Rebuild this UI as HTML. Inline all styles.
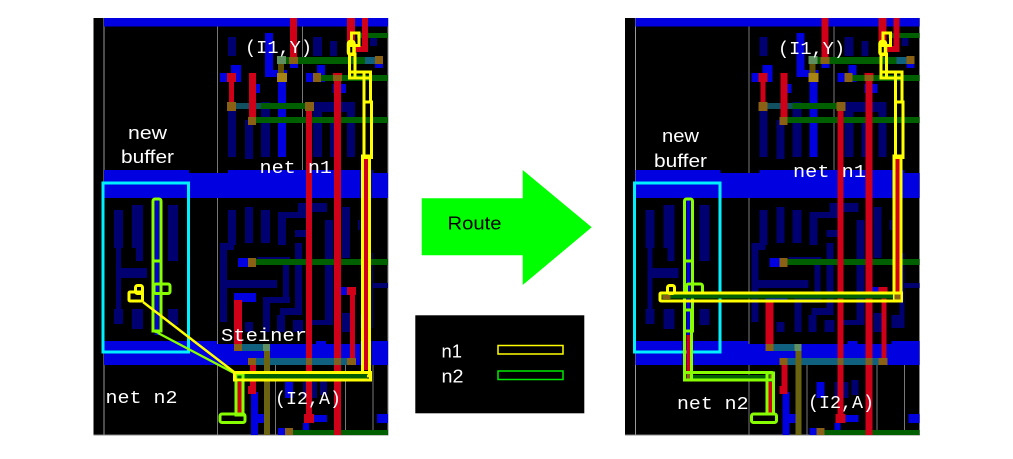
<!DOCTYPE html>
<html>
<head>
<meta charset="utf-8">
<style>
html,body{margin:0;padding:0;background:#fff;}
svg{display:block;}
.m{font-family:"Liberation Mono",monospace;font-size:18px;fill:#fff;}
.s{font-family:"Liberation Sans",sans-serif;font-size:18px;fill:#fff;}
</style>
</head>
<body>
<svg width="1013" height="459" viewBox="0 0 1013 459" xmlns="http://www.w3.org/2000/svg">
<defs>
<g id="base" shape-rendering="crispEdges">
  <rect x="93.5" y="18" width="294.5" height="417" fill="#000"/>
  <!-- grey lines -->
  <g fill="#777">
    <rect x="103.5" y="18" width="1" height="417" fill="#999"/>
    <rect x="217" y="18" width="1" height="417"/>
    <rect x="302" y="18" width="1" height="160"/>
    <rect x="275" y="365" width="1" height="70"/>
    <rect x="345" y="365" width="1" height="70"/>
    <rect x="372.5" y="365" width="1" height="70"/>
    <rect x="387.5" y="18" width="1" height="417" fill="#888"/>
    <rect x="93.5" y="434.5" width="295" height="1" fill="#888"/>
  </g>
  <!-- navy -->
  <g fill="#000070">
    <rect x="228" y="37" width="8" height="19"/><rect x="313" y="37" width="9" height="19"/>
    <rect x="330" y="41" width="7" height="15"/><rect x="370" y="38" width="7" height="8"/>
    <rect x="228" y="110" width="8" height="47"/><rect x="245" y="120" width="8" height="39"/>
    <rect x="261" y="102" width="9" height="55"/><rect x="313" y="102" width="9" height="55"/>
    <rect x="330" y="120" width="7" height="37"/><rect x="347" y="102" width="8" height="55"/>
    <rect x="313" y="102" width="42" height="10"/>
    <!-- buffer cell -->
    <rect x="114" y="210" width="9" height="38"/><rect x="132" y="205" width="11" height="43"/>
    <rect x="136" y="248" width="7" height="13"/><rect x="168" y="205" width="10" height="56"/>
    <rect x="116" y="248" width="5" height="67"/><rect x="121" y="268" width="26" height="10"/>
    <rect x="114" y="309" width="9" height="15"/><rect x="132" y="309" width="11" height="20"/>
    <rect x="168" y="309" width="10" height="16"/>
    <!-- lower cell -->
    <rect x="228" y="210" width="8" height="35"/><rect x="245" y="207" width="8" height="36"/>
    <rect x="261" y="210" width="9" height="33"/><rect x="278" y="212" width="8" height="33"/>
    <rect x="278" y="212" width="29" height="6"/><rect x="298" y="203" width="29" height="9"/>
    <rect x="325" y="220" width="8" height="105"/><rect x="342" y="207" width="8" height="51"/>
    <rect x="358" y="220" width="5" height="10"/>
    <rect x="220" y="243" width="7" height="79"/><rect x="220" y="243" width="14" height="7"/>
    <rect x="227" y="280" width="50" height="8"/>
    <rect x="263" y="297" width="7" height="35"/><rect x="263" y="297" width="27" height="6"/>
    <rect x="283" y="257" width="6" height="40"/><rect x="257" y="257" width="33" height="8"/>
    <rect x="295" y="243" width="7" height="69"/><rect x="280" y="308" width="22" height="7"/>
    <rect x="277" y="315" width="8" height="17"/><rect x="295" y="230" width="12" height="7"/>
    <rect x="245" y="322" width="8" height="10"/><rect x="293" y="320" width="10" height="12"/>
    <rect x="312" y="320" width="18" height="5"/><rect x="342" y="313" width="8" height="19"/>
    <rect x="360" y="315" width="13" height="13"/><rect x="368" y="253" width="5" height="65"/>
    <rect x="373" y="283" width="15" height="5"/>
    <rect x="303" y="382" width="14" height="16"/><rect x="320" y="380" width="7" height="15"/>
  </g>
  <!-- rails -->
  <g fill="#0000e0">
    <rect x="104" y="18" width="284" height="8.5"/>
    <rect x="104" y="170" width="85" height="28"/>
    <rect x="189" y="173" width="39" height="25"/>
    <rect x="228" y="170" width="145" height="28"/>
    <rect x="373" y="173" width="15" height="25"/>
    <rect x="104" y="341" width="113" height="24"/>
    <rect x="217" y="344" width="171" height="21"/>
    <rect x="360" y="341" width="28" height="24"/>
    <rect x="316" y="341" width="10" height="4"/>
  </g>
  <!-- bright blue -->
  <g fill="#0000e0">
    <rect x="278" y="73" width="8" height="84"/><rect x="265" y="33" width="8" height="44"/>
    <rect x="265" y="70" width="22" height="7"/><rect x="231" y="65" width="10" height="17"/>
    <rect x="220" y="73" width="17" height="9"/><rect x="250" y="84" width="10" height="9"/>
    <rect x="306" y="73" width="19" height="9"/><rect x="317" y="65" width="8" height="17"/>
    <rect x="333" y="84" width="13" height="9"/><rect x="290" y="60" width="8" height="8"/>
    <rect x="375" y="57" width="8" height="11"/><rect x="365" y="57" width="18" height="6"/>
    <rect x="238" y="258" width="12" height="9"/><rect x="234" y="293" width="22" height="9"/>
    <rect x="340" y="287" width="8" height="8"/><rect x="251" y="392" width="7" height="43"/>
    <rect x="257" y="414" width="13" height="9"/><rect x="285" y="382" width="8" height="16"/>
    <rect x="303" y="423" width="6" height="12"/><rect x="313" y="415" width="14" height="7"/>
    <rect x="377" y="414" width="11" height="9"/><rect x="278" y="428" width="7" height="7"/>
  </g>
  <!-- dark green -->
  <g fill="#006000">
    <rect x="277" y="57" width="106" height="7"/><rect x="317" y="75" width="71" height="6"/>
    <rect x="231" y="103" width="78" height="6"/><rect x="252" y="117" width="136" height="6"/>
    <rect x="357" y="33" width="31" height="5"/><rect x="252" y="259" width="136" height="6"/>
    <rect x="288" y="430" width="100" height="5"/>
  </g>
  <!-- teal overlaps under red -->
  <g fill="#106080">
    <rect x="242" y="344" width="22" height="7"/><rect x="256" y="358" width="91" height="7"/>
    <rect x="365" y="57" width="10" height="7"/>
    <rect x="231" y="103" width="30" height="6" fill="#105060"/>
  </g>
  <!-- red -->
  <g fill="#d00018">
    <rect x="290" y="18" width="7" height="39"/><rect x="347" y="18" width="8" height="25"/>
    <rect x="362" y="18" width="6" height="34"/><rect x="355" y="46" width="13" height="6"/>
    <rect x="229" y="73" width="5" height="32"/><rect x="227" y="73" width="9" height="9"/>
    <rect x="249" y="73" width="7" height="50"/>
    <rect x="306" y="105" width="6" height="310"/><rect x="304" y="414" width="10" height="9"/>
    <rect x="334" y="73" width="7" height="362"/><rect x="333" y="73" width="9" height="6"/>
    <rect x="350" y="287" width="5" height="71"/><rect x="347" y="287" width="9" height="8"/>
    <rect x="234" y="300" width="8" height="45"/>
    <rect x="250" y="358" width="6" height="30"/><rect x="248" y="386" width="8" height="8"/>
    <rect x="237" y="382" width="5" height="33"/>
  </g>
  <g>
    <rect x="306" y="358" width="6" height="7" fill="#806020"/>
    <rect x="334" y="358" width="7" height="7" fill="#806020"/>
  </g>
  <!-- olive via stack -->
  <rect x="264" y="344" width="6" height="91" fill="#6a6410"/>
  <rect x="263" y="344" width="7" height="7" fill="#609060"/>
  <rect x="278" y="64" width="6" height="9" fill="#605000"/>
  <!-- brown pads -->
  <g fill="#8a6014">
    <rect x="227" y="102" width="9" height="9"/><rect x="305" y="102" width="9" height="9"/>
    <rect x="248" y="117" width="8" height="8"/><rect x="289" y="57" width="9" height="7"/>
    <rect x="375" y="56" width="8" height="8"/><rect x="313" y="73" width="8" height="9"/>
    <rect x="333" y="75" width="9" height="6"/>
    <rect x="248" y="258" width="8" height="9"/><rect x="234" y="344" width="8" height="7"/>
    <rect x="248" y="358" width="8" height="7"/><rect x="347" y="358" width="9" height="7"/>
    <rect x="285" y="428" width="8" height="7"/>
    <rect x="277" y="73" width="10" height="9" fill="#a88414"/>
  </g>
  <rect x="277" y="56" width="9" height="8" fill="#609060"/>
  <rect x="155" y="200" width="4" height="135" fill="#0000e0"/>
  <!-- cyan box -->
  <rect x="103" y="183" width="85.5" height="169" fill="none" stroke="#00f0ff" stroke-width="3"/>
</g>
<g id="top" fill="none" stroke="#ffff00" stroke-width="3">
  <rect x="351.5" y="33" width="7.5" height="12.5"/>
  <rect x="348.5" y="41.5" width="5.5" height="13" rx="2" stroke-width="3.5"/>
  <rect x="349.5" y="54" width="5.5" height="24"/>
  <rect x="349.5" y="72" width="21" height="6"/>
  <rect x="364" y="72" width="6.5" height="30"/>
  <rect x="364" y="102" width="7.5" height="55.5"/>
</g>
</defs>

<!-- LEFT PANEL -->
<use href="#base"/>
<rect x="363" y="158" width="5" height="212" fill="#d00018"/>
<use href="#top"/>
<g fill="none" stroke="#ffff00" stroke-width="3">
  <rect x="362.5" y="156" width="7" height="220"/>
</g>
<rect x="238" y="373.5" width="129" height="5" fill="#006000"/>
<g fill="none" stroke-width="3" stroke="#88ff00">
  <rect x="153" y="199" width="8" height="62" rx="2"/>
  <rect x="153" y="261" width="8" height="70"/>
  <rect x="154" y="284" width="16" height="9.5" rx="2"/>
  <rect x="236" y="374" width="7" height="41"/>
  <rect x="220" y="414" width="25" height="8.5" rx="2"/>
  <path d="M158 333 L234 373 M153 331 L160 333" stroke-width="2.4"/>
</g>
<g fill="none" stroke="#ffff00" stroke-width="3">
  <rect x="129" y="292" width="13.5" height="9" rx="1"/>
  <rect x="135.5" y="285.5" width="7" height="8" rx="2"/>
  <rect x="234.5" y="372.5" width="136" height="7.5"/>
  <path d="M143 302 L234 372" stroke-width="2.4"/>
</g>
<text class="m" x="245" y="53" textLength="67" lengthAdjust="spacingAndGlyphs">(I1,Y)</text>
<text class="s" x="128" y="139" textLength="39" lengthAdjust="spacingAndGlyphs">new</text>
<text class="s" x="121" y="163" textLength="53" lengthAdjust="spacingAndGlyphs">buffer</text>
<text class="m" x="259.5" y="173" textLength="72.5" lengthAdjust="spacingAndGlyphs">net n1</text>
<text class="m" x="221" y="341" textLength="86" lengthAdjust="spacingAndGlyphs">Steiner</text>
<text class="m" x="105.5" y="403" textLength="72" lengthAdjust="spacingAndGlyphs">net n2</text>
<text class="m" x="275" y="404" textLength="66" lengthAdjust="spacingAndGlyphs">(I2,A)</text>

<!-- RIGHT PANEL -->
<g transform="translate(531.5 0)">
  <use href="#base"/>
  <rect x="363" y="158" width="5" height="136" fill="#d00018"/>
  <use href="#top"/>
  <rect x="362.5" y="156" width="7" height="140" fill="none" stroke="#ffff00" stroke-width="3"/>
  <rect x="155" y="335" width="5" height="40" fill="#d00018"/>
  <rect x="157" y="375" width="84" height="5" fill="#006000"/>
  <rect x="155" y="374" width="5" height="6" fill="#8a6014"/>
  <rect x="238" y="375" width="5" height="5" fill="#8a6014"/>
  <g fill="none" stroke="#88ff00" stroke-width="3">
    <rect x="153" y="199" width="8" height="62" rx="2"/>
    <rect x="153" y="261" width="8" height="70"/>
    <rect x="155" y="284" width="16" height="9.5" rx="2"/>
    <rect x="153" y="310" width="7" height="70"/>
    <rect x="153" y="372.5" width="88.5" height="7.5" rx="1"/>
    <rect x="235.5" y="373" width="6.5" height="41"/>
    <rect x="220" y="414" width="25" height="8.5" rx="2"/>
  </g>
  <rect x="129" y="293.5" width="240" height="5" fill="#006000"/>
  <g fill="none" stroke="#ffff00" stroke-width="3">
    <rect x="128.5" y="293" width="240" height="8" rx="1"/>
    <rect x="136" y="285.5" width="7" height="8" rx="2"/>
    <rect x="363" y="293" width="7" height="8"/>
  </g>
  <rect x="131" y="295" width="8" height="4" fill="#8a6014"/>
  <rect x="363" y="294.5" width="6" height="5" fill="#8a6014"/>
</g>
<text class="m" x="778" y="54" textLength="67" lengthAdjust="spacingAndGlyphs">(I1,Y)</text>
<text class="s" x="662" y="142" textLength="37" lengthAdjust="spacingAndGlyphs">new</text>
<text class="s" x="654" y="167" textLength="53" lengthAdjust="spacingAndGlyphs">buffer</text>
<text class="m" x="793" y="177" textLength="73" lengthAdjust="spacingAndGlyphs">net n1</text>
<text class="m" x="677" y="409" textLength="71.5" lengthAdjust="spacingAndGlyphs">net n2</text>
<text class="m" x="808" y="408" textLength="66" lengthAdjust="spacingAndGlyphs">(I2,A)</text>

<!-- ARROW -->
<polygon points="421.7,198.3 522.7,198.3 522.7,170 591.7,227.3 522.7,285 522.7,255.3 421.7,255.3" fill="#00ff00"/>
<text x="447.5" y="229.3" font-family="'Liberation Sans',sans-serif" font-size="18" fill="#000" textLength="54" lengthAdjust="spacingAndGlyphs">Route</text>

<!-- LEGEND -->
<rect x="415.3" y="315.3" width="169" height="98" fill="#000"/>
<text class="s" x="441.5" y="357.7" textLength="20.5" lengthAdjust="spacingAndGlyphs">n1</text>
<text class="s" x="441.5" y="382.7" textLength="22" lengthAdjust="spacingAndGlyphs">n2</text>
<rect x="498" y="345.5" width="65" height="8.5" fill="none" stroke="#ffff00" stroke-width="1.5"/>
<rect x="498" y="371" width="65" height="8.5" fill="none" stroke="#00e800" stroke-width="1.5"/>
</svg>
</body>
</html>
